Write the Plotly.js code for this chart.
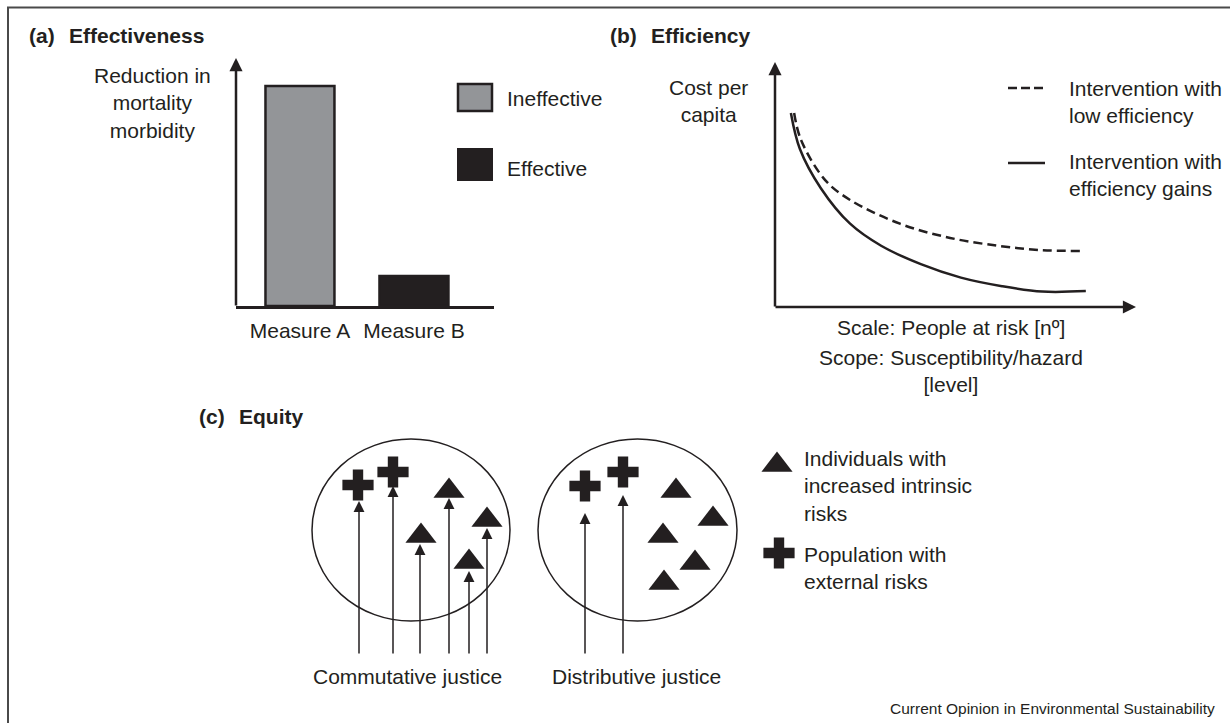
<!DOCTYPE html>
<html><head><meta charset="utf-8">
<script src="https://cdn.plot.ly/plotly-3.0.1.min.js"></script>
<style>html,body{margin:0;padding:0;background:#fff}#chart{width:1230px;height:723px}</style>
</head><body><div id="chart"></div>
<script>
// ---------------- data ----------------
// (a) Effectiveness
const measures = ['Measure A', 'Measure B'];
const mortalityReduction = [88.7, 12.1];
const effectivenessClass = ['Ineffective', 'Effective'];

// (b) Efficiency  (scale of intervention vs cost per capita)
const scaleLowEff = [0.53, 0.72, 1.39, 2.08, 3.46, 4.85, 6.23, 7.40, 8.45];
const costLowEff  = [7.92, 6.82, 5.18, 4.37, 3.40, 2.82, 2.49, 2.32, 2.29];
const scaleGains  = [0.44, 0.69, 1.27, 2.08, 2.94, 4.04, 5.15, 6.29, 7.40, 8.61];
const costGains   = [7.92, 6.45, 4.85, 3.40, 2.50, 1.75, 1.20, 0.85, 0.63, 0.65];
const efficiencyLabels = ['Intervention with<br>low efficiency', 'Intervention with<br>efficiency gains'];

// (c) Equity  (positions of individuals inside each population)
const commutativeExternalX = [358, 393];
const commutativeExternalY = [485, 472];
const commutativeIntrinsicX = [449, 421, 487, 469];
const commutativeIntrinsicY = [491, 536, 520, 562];
const distributiveExternalX = [585, 623];
const distributiveExternalY = [486, 472];
const distributiveIntrinsicX = [676, 713, 663, 695, 664];
const distributiveIntrinsicY = [491, 519, 536, 563, 583];
const commutativeArrowX = [359, 393, 420, 449, 469, 487];
const commutativeArrowTipY = [501, 486, 544, 498, 571, 528];
const distributiveArrowX = [585, 623];
const distributiveArrowTipY = [513, 495];
const equityLabels = ['Commutative justice', 'Distributive justice'];
const riskLabels = ['Individuals with<br>increased intrinsic<br>risks', 'Population with<br>external risks'];

// ---------------- helpers ----------------
const W = 1230, H = 723;
const fx = p => p / W;
const fy = p => 1 - p / H;
const INK = '#231f20';
const GREY = '#939598';
const FONT = 'Liberation Sans, Arial, Helvetica, sans-serif';

function txt(t, x, y, anchor, size, extra) {
  return Object.assign({
    text: t, xref: 'paper', yref: 'paper', x: fx(x), y: fy(y),
    xanchor: anchor || 'left', yanchor: 'middle', showarrow: false,
    font: {family: FONT, size: size || 21, color: INK}, align: anchor === 'center' ? 'center' : 'left'
  }, extra || {});
}
function axisArrow(xTip, yTip, dxTail, dyTail) {
  return {xref: 'paper', yref: 'paper', x: fx(xTip), y: fy(yTip), axref: 'pixel', ayref: 'pixel',
    ax: dxTail, ay: dyTail, text: '', showarrow: true, arrowhead: 2, arrowsize: 1.05,
    arrowwidth: 2.5, arrowcolor: INK, standoff: 0};
}

// ---------------- traces ----------------
const traces = [];
// (a)
traces.push({type: 'bar', x: measures, y: mortalityReduction, xaxis: 'x', yaxis: 'y', width: 0.605,
  marker: {color: [GREY, INK], line: {color: INK, width: 2.5}}, hoverinfo: 'skip'});
// (b)
traces.push({type: 'scatter', mode: 'lines', x: scaleLowEff, y: costLowEff, xaxis: 'x2', yaxis: 'y2',
  line: {color: INK, width: 2.5, dash: '9px,5px', shape: 'spline', smoothing: 1}, hoverinfo: 'skip'});
traces.push({type: 'scatter', mode: 'lines', x: scaleGains, y: costGains, xaxis: 'x2', yaxis: 'y2',
  line: {color: INK, width: 2.5, shape: 'spline', smoothing: 1}, hoverinfo: 'skip'});
// (c)
const triMarker = {symbol: 'triangle-up', size: 27, color: INK, line: {width: 0}};
const crossMarker = {symbol: 'cross', size: 26, color: INK, line: {width: 0}};
traces.push({type: 'scatter', mode: 'markers', x: commutativeIntrinsicX, y: commutativeIntrinsicY, xaxis: 'x3', yaxis: 'y3', marker: triMarker, hoverinfo: 'skip'});
traces.push({type: 'scatter', mode: 'markers', x: distributiveIntrinsicX, y: distributiveIntrinsicY, xaxis: 'x3', yaxis: 'y3', marker: triMarker, hoverinfo: 'skip'});
traces.push({type: 'scatter', mode: 'markers', x: commutativeExternalX, y: commutativeExternalY, xaxis: 'x3', yaxis: 'y3', marker: crossMarker, hoverinfo: 'skip'});
traces.push({type: 'scatter', mode: 'markers', x: distributiveExternalX, y: distributiveExternalY, xaxis: 'x3', yaxis: 'y3', marker: crossMarker, hoverinfo: 'skip'});
// legend keys for (c)
traces.push({type: 'scatter', mode: 'markers', x: [777], y: [465], xaxis: 'x3', yaxis: 'y3', marker: triMarker, hoverinfo: 'skip'});
traces.push({type: 'scatter', mode: 'markers', x: [779], y: [553], xaxis: 'x3', yaxis: 'y3', marker: crossMarker, hoverinfo: 'skip'});

// ---------------- annotations ----------------
const ann = [];
ann.push(txt('<b>(a)</b>', 27, 35));
ann.push(txt('<b>Effectiveness</b>', 67, 35));
ann.push(txt('<b>(b)</b>', 608, 35));
ann.push(txt('<b>Efficiency</b>', 649, 35));
ann.push(txt('<b>(c)</b>', 197, 417));
ann.push(txt('<b>Equity</b>', 237, 417));

ann.push(txt('Reduction in<br>mortality<br>morbidity', 152, 103, 'center'));
ann.push(txt(effectivenessClass[0], 505, 99));
ann.push(txt(effectivenessClass[1], 505, 168));

ann.push(txt('Cost per<br>capita', 708, 101, 'center'));
ann.push(txt('Scale: People at risk [nº]', 951, 328, 'center'));
ann.push(txt('Scope: Susceptibility/hazard<br>[level]', 951, 371, 'center'));
ann.push(txt(efficiencyLabels[0], 1067, 102));
ann.push(txt(efficiencyLabels[1], 1067, 174.5));

ann.push(txt(equityLabels[0], 407.5, 676, 'center'));
ann.push(txt(equityLabels[1], 636.5, 676, 'center'));
ann.push(txt(riskLabels[0], 802, 486));
ann.push(txt(riskLabels[1], 802, 568));
ann.push(txt('Current Opinion in Environmental Sustainability', 1217, 708, 'right', 15.5));

// axis arrows
ann.push(axisArrow(236, 58, 0, 249));     // (a) y axis
ann.push(axisArrow(775, 62, 0, 246));     // (b) y axis
ann.push(axisArrow(1136, 307, -362, 0));  // (b) x axis

// (c) intervention arrows
const arrowBase = 655;
function pushArrows(xs, tips) {
  xs.forEach((x, i) => ann.push({xref: 'x3', yref: 'y3', axref: 'x3', ayref: 'y3', x: x, y: tips[i], ax: x, ay: arrowBase,
    text: '', showarrow: true, arrowhead: 2, arrowsize: 1.45, arrowwidth: 1.5, arrowcolor: INK, standoff: 0}));
}
pushArrows(commutativeArrowX, commutativeArrowTipY);
pushArrows(distributiveArrowX, distributiveArrowTipY);

// ---------------- shapes ----------------
const shapes = [
  // frame
  {type: 'line', xref: 'paper', yref: 'paper', x0: fx(7), x1: fx(1230), y0: fy(7.5), y1: fy(7.5), line: {color: '#4a4a4a', width: 2}},
  {type: 'line', xref: 'paper', yref: 'paper', x0: fx(8), x1: fx(8), y0: fy(7), y1: fy(723), line: {color: '#4a4a4a', width: 2}},
  // (a) legend keys
  {type: 'rect', xref: 'paper', yref: 'paper', x0: fx(458), x1: fx(492), y0: fy(84), y1: fy(111), fillcolor: GREY, line: {color: INK, width: 2.5}},
  {type: 'rect', xref: 'paper', yref: 'paper', x0: fx(458), x1: fx(492), y0: fy(149), y1: fy(180), fillcolor: INK, line: {color: INK, width: 2}},
  // (b) legend keys
  {type: 'line', xref: 'paper', yref: 'paper', x0: fx(1008), x1: fx(1046), y0: fy(88), y1: fy(88), line: {color: INK, width: 2.5, dash: '9px,4px'}},
  {type: 'line', xref: 'paper', yref: 'paper', x0: fx(1008), x1: fx(1045), y0: fy(163), y1: fy(163), line: {color: INK, width: 2.5}},
  // (c) population circles
  {type: 'circle', xref: 'x3', yref: 'y3', x0: 312, x1: 510, y0: 439, y1: 621, line: {color: INK, width: 1.5}},
  {type: 'circle', xref: 'x3', yref: 'y3', x0: 538, x1: 737, y0: 439, y1: 621, line: {color: INK, width: 1.5}}
];

// ---------------- layout ----------------
const hidden = {showline: false, showgrid: false, zeroline: false, showticklabels: false, ticks: '', fixedrange: true};
const layout = {
  width: W, height: H, margin: {l: 0, r: 0, t: 0, b: 0, pad: 0},
  paper_bgcolor: '#ffffff', plot_bgcolor: 'rgba(0,0,0,0)', showlegend: false,
  font: {family: FONT, color: INK, size: 21},
  xaxis: {domain: [fx(236), fx(494)], type: 'category', range: [-0.561, 1.702], anchor: 'y',
    showline: true, linewidth: 2.5, linecolor: INK, showgrid: false, zeroline: false, ticks: '',
    ticklabelstandoff: 4, tickfont: {family: FONT, size: 21, color: INK}, fixedrange: true},
  yaxis: Object.assign({domain: [fy(306), fy(58)], range: [0, 100], anchor: 'x'}, hidden),
  xaxis2: Object.assign({domain: [fx(775), fx(1136)], range: [0, 10], anchor: 'y2'}, hidden),
  yaxis2: Object.assign({domain: [fy(307), fy(62)], range: [0, 10], anchor: 'x2'}, hidden),
  xaxis3: Object.assign({domain: [0, 1], range: [0, W], anchor: 'y3'}, hidden),
  yaxis3: Object.assign({domain: [0, 1], range: [H, 0], anchor: 'x3'}, hidden),
  annotations: ann,
  shapes: shapes
};

Plotly.newPlot('chart', traces, layout, {displayModeBar: false, staticPlot: true});
</script>
</body></html>
